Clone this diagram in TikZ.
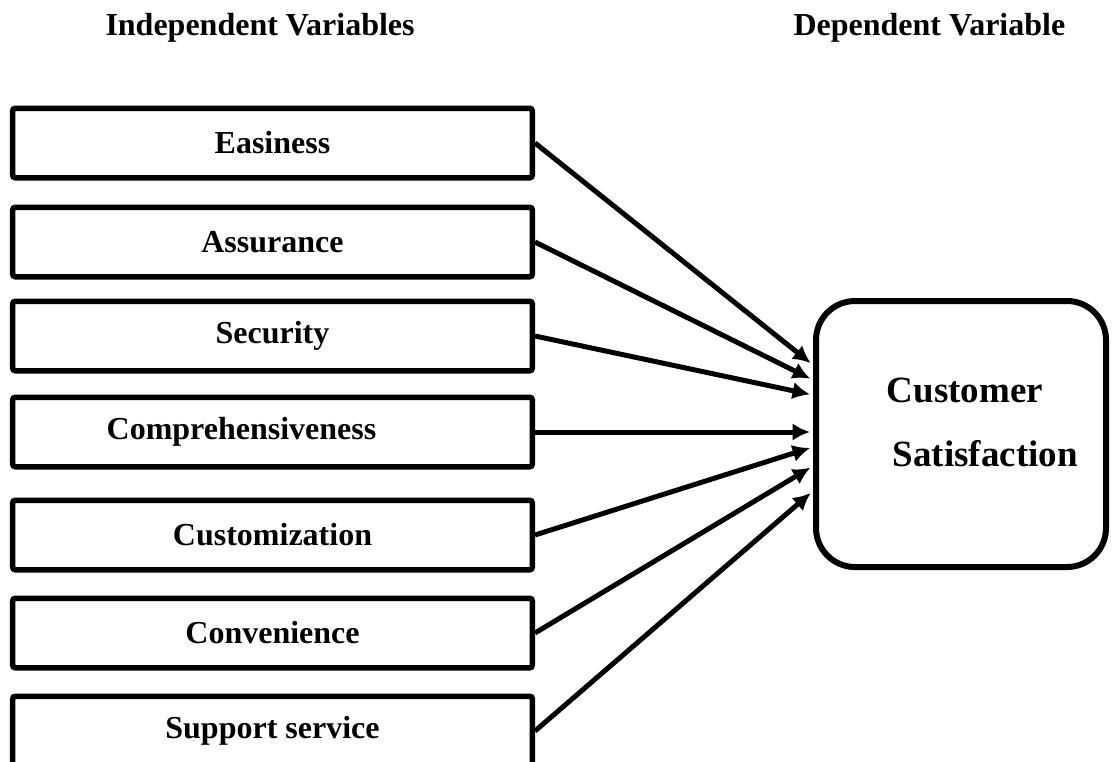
\documentclass[tikz,border=0pt]{standalone}
\usepackage{fontspec}
\setmainfont{Liberation Serif}
\usetikzlibrary{arrows.meta}

\begin{document}
\begin{tikzpicture}[x=0.4pt, y=-0.4pt, >={Latex[length=7pt,width=7pt]},
  font=\bfseries\fontsize{12.8}{15}\selectfont,
  ivbox/.style={draw, line width=2.2pt, rounded corners=1pt,
    minimum width=207.8pt, minimum height=27.8pt, inner sep=0pt},
  link/.style={->, line width=2pt, shorten >=1.2pt}]
\useasboundingbox (0,0) rectangle (1112,761);
% headings
\node[anchor=base west, inner sep=0pt] (hind) at (105,35) {Independent Variables};
\node[anchor=base west, inner sep=0pt] (hdep) at (793,35) {Dependent Variable};
% independent variables
\node[ivbox] (easy) at (272.5,143) {Easiness};
\node[ivbox] (assur) at (272.5,242) {Assurance};
\node[ivbox] (secur) at (272.5,336) {Security};
\node[ivbox] (compr) at (272.5,432) {\hspace*{-24.8pt}Comprehensiveness};
\node[ivbox] (custo) at (272.5,535) {Customization};
\node[ivbox] (conve) at (272.5,633) {Convenience};
\node[ivbox] (suppo) at (272.5,731) {Support service};
% dependent variable
\node[draw, line width=2.4pt, rounded corners=15.6pt, minimum width=116pt,
      minimum height=106.4pt, align=left, text depth=9.6pt,
      font=\bfseries\fontsize{14.8}{25.6}\selectfont] (cs) at (961,434)
      {\hspace*{17pt}Customer\\\hspace*{19.4pt}Satisfaction};
% arrows into customer satisfaction
\draw[link] (easy.east) -- (cs.west |- 0,365);
\draw[link] (assur.east) -- (cs.west |- 0,380);
\draw[link] (secur.east) -- (cs.west |- 0,395);
\draw[link] (compr.east) -- (cs.west |- 0,432);
\draw[link] (custo.east) -- (cs.west |- 0,447);
\draw[link] (conve.east) -- (cs.west |- 0,466);
\draw[link] (suppo.east) -- (cs.west |- 0,491);
\end{tikzpicture}
\end{document}
